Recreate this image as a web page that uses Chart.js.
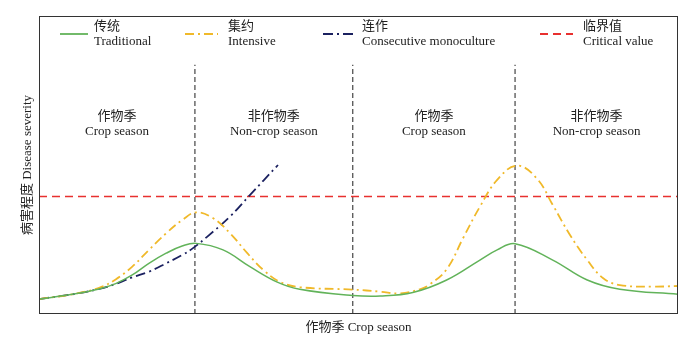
<!DOCTYPE html>
<html>
<head>
<meta charset="utf-8">
<script src="https://cdn.jsdelivr.net/npm/chart.js@4/dist/chart.umd.min.js"></script>
<style>
html,body{margin:0;padding:0;background:#fff;}
#wrap{width:698px;height:341px;}
</style>
</head>
<body>
<div id="wrap"><canvas id="c" width="698" height="341"></canvas></div>
<script>
// Data (x in relative time units 0-100, y disease severity 0-100)
const tradX = [0, 5.2, 9.4, 12.0, 14.6, 17.2, 19.9, 22.4, 24.6, 28.8, 33.0, 37.2, 40.8, 49.1, 53.4, 58.5, 63.8, 69.0, 71.7, 74.5, 80.4, 85.8, 90.9, 100];
const tradY = [5.0, 6.6, 8.4, 10.2, 13.1, 17.0, 20.4, 22.8, 23.7, 21.5, 15.9, 10.8, 8.3, 6.2, 6.0, 7.2, 11.4, 18.1, 21.5, 23.6, 18.1, 11.4, 8.3, 6.6];
const intX = [0, 5.2, 9.4, 12.0, 14.6, 17.2, 19.9, 22.4, 24.6, 27.2, 29.9, 32.6, 35.1, 37.7, 40.8, 49.1, 53.4, 56.5, 59.6, 61.2, 63.8, 66.4, 69.0, 71.7, 74.8, 77.9, 80.4, 83.1, 85.8, 88.3, 90.9, 96.1, 100];
const intY = [5.0, 6.6, 8.8, 11.6, 15.9, 21.5, 27.1, 31.5, 34.1, 32.2, 27.1, 20.4, 14.8, 10.8, 9.0, 8.2, 7.5, 6.9, 8.3, 10.0, 15.0, 25.6, 36.0, 45.0, 49.8, 45.5, 36.6, 26.5, 18.1, 12.0, 9.7, 9.2, 9.4];
const consX = [0, 5.2, 9.4, 12.0, 14.6, 17.2, 19.9, 22.4, 24.1, 26.3, 29.9, 33.0, 37.4];
const consY = [5.0, 6.6, 8.4, 10.1, 12.3, 14.2, 17.0, 19.8, 22.1, 25.9, 32.7, 39.9, 50.0];
const criticalValue = 39.4;
const seasonBounds = [24.4, 49.1, 74.5];
const seasonTop = 83.6;
const seasonLabelsCn = ['作物季', '非作物季', '作物季', '非作物季'];
const seasonLabelsEn = ['Crop season', 'Non-crop season', 'Crop season', 'Non-crop season'];
const legendCn = ['传统', '集约', '连作', '临界值'];
const legendEn = ['Traditional', 'Intensive', 'Consecutive monoculture', 'Critical value'];

const FONT = "'Liberation Serif', 'Noto Sans CJK SC', serif";
const colors = ['#62b35a', '#f0b92a', '#1b2160', '#e8302f'];
const dashes = [[], [9, 4, 2, 4], [10, 4, 2, 4], [8, 5]];

const pts = (xs, ys) => xs.map((x, i) => ({x: x, y: ys[i]}));

const datasets = [
  {data: pts(tradX, tradY), borderColor: colors[0], borderWidth: 1.5, borderDash: dashes[0], tension: 0.4},
  {data: pts(intX, intY), borderColor: colors[1], borderWidth: 1.8, borderDash: dashes[1], tension: 0.4},
  {data: pts(consX, consY), borderColor: colors[2], borderWidth: 1.8, borderDash: dashes[2], tension: 0.4},
  {data: [{x: 0, y: criticalValue}, {x: 100, y: criticalValue}], borderColor: colors[3], borderWidth: 1.5, borderDash: dashes[3]}
];
seasonBounds.forEach(b => {
  datasets.push({data: [{x: b, y: 0}, {x: b, y: seasonTop}], borderColor: '#444', borderWidth: 1.2, borderDash: [5, 3]});
});

const overlay = {
  id: 'overlay',
  afterDraw(chart) {
    const ctx = chart.ctx;
    const a = chart.chartArea;
    const xs = chart.scales.x;
    ctx.save();
    // frame
    ctx.strokeStyle = '#333';
    ctx.lineWidth = 1;
    ctx.setLineDash([]);
    ctx.strokeRect(a.left + 0.5, a.top + 0.5, a.right - a.left - 1, a.bottom - a.top - 1);
    // season labels
    ctx.fillStyle = '#222';
    ctx.textAlign = 'center';
    ctx.textBaseline = 'middle';
    ctx.font = '13px ' + FONT;
    const edges = [0].concat(seasonBounds, [100]);
    for (let i = 0; i < 4; i++) {
      const cx = (xs.getPixelForValue(edges[i]) + xs.getPixelForValue(edges[i + 1])) / 2;
      ctx.fillText(seasonLabelsCn[i], cx, 117);
      ctx.fillText(seasonLabelsEn[i], cx, 132);
    }
    // legend
    const samples = [[60, 88], [185, 218], [323, 353], [540, 573]];
    const textX = [94, 228, 362, 583];
    for (let i = 0; i < 4; i++) {
      ctx.strokeStyle = colors[i];
      ctx.lineWidth = 1.8;
      ctx.setLineDash(dashes[i]);
      ctx.beginPath();
      ctx.moveTo(samples[i][0], 34);
      ctx.lineTo(samples[i][1], 34);
      ctx.stroke();
      ctx.setLineDash([]);
      ctx.fillStyle = '#222';
      ctx.textAlign = 'left';
      ctx.fillText(legendCn[i], textX[i], 27);
      ctx.fillText(legendEn[i], textX[i], 42);
    }
    ctx.restore();
  }
};

new Chart(document.getElementById('c'), {
  type: 'line',
  data: {datasets: datasets},
  options: {
    responsive: false,
    animation: false,
    layout: {padding: {top: 16, right: 20, left: 0, bottom: 0}},
    elements: {point: {radius: 0}},
    plugins: {legend: {display: false}, tooltip: {enabled: false}},
    scales: {
      x: {
        type: 'linear', min: 0, max: 100,
        grid: {display: false, drawTicks: false},
        border: {display: false},
        ticks: {display: false},
        title: {display: true, text: '作物季 Crop season', color: '#222', font: {size: 13, family: FONT}, padding: {top: 4, bottom: 6}},
        afterFit: s => { s.height = 27; }
      },
      y: {
        type: 'linear', min: 0, max: 100,
        grid: {display: false, drawTicks: false},
        border: {display: false},
        ticks: {display: false},
        title: {display: true, text: '病害程度 Disease severity', color: '#222', font: {size: 13, family: FONT}, padding: {top: 20, bottom: 4}},
        afterFit: s => { s.width = 39; }
      }
    }
  },
  plugins: [overlay]
});
</script>
</body>
</html>
